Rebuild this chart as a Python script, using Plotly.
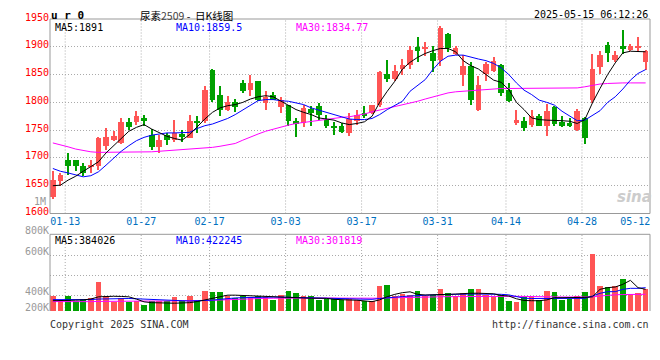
import plotly.graph_objects as go

# ---------------- data ----------------
dates = ["01-09","01-10","01-13","01-14","01-15","01-16","01-17","01-20","01-21","01-22","01-23","01-24","01-27",
         "02-05","02-06","02-07","02-10","02-11","02-12","02-13","02-14","02-17","02-18","02-19","02-20","02-21",
         "02-24","02-25","02-26","02-27","02-28",
         "03-03","03-04","03-05","03-06","03-07","03-10","03-11","03-12","03-13","03-14","03-17","03-18","03-19",
         "03-20","03-21","03-24","03-25","03-26","03-27","03-28","03-31",
         "04-01","04-02","04-03","04-07","04-08","04-09","04-10","04-11","04-14","04-15","04-16","04-17","04-18",
         "04-21","04-22","04-23","04-24","04-25","04-28","04-29","04-30",
         "05-06","05-07","05-08","05-09","05-12","05-13"]

opens = [1629,1659,1697,1697,1686,1685,1686,1721,1732,1727,1764,1764,1771,1741,1719,1741,1732,1743,1735,1766,
         1766,1858,1814,1786,1800,1834,1822,1838,1799,1813,1791,1796,1766,1763,1788,1793,1769,1758,1758,1745,
         1767,1781,1781,1796,1851,1842,1860,1867,1900,1897,1888,1876,1923,1887,1849,1866,1786,1851,1857,1867,
         1822,1763,1767,1760,1775,1757,1791,1764,1762,1750,1772,1805,1864,1903,1876,1901,1894,1898,1873]
highs = [1676,1672,1708,1697,1690,1696,1738,1753,1748,1771,1771,1784,1778,1752,1742,1745,1768,1751,1777,1775,
         1829,1860,1829,1812,1806,1841,1849,1838,1820,1819,1810,1796,1771,1795,1793,1798,1778,1765,1762,1781,
         1787,1793,1796,1857,1876,1867,1878,1901,1917,1908,1902,1937,1925,1901,1885,1872,1847,1873,1881,1869,
         1834,1787,1773,1787,1779,1797,1793,1775,1771,1788,1774,1887,1892,1908,1893,1930,1905,1917,1894]
lows = [1627,1650,1670,1677,1667,1673,1678,1715,1731,1725,1750,1760,1757,1715,1709,1723,1728,1728,1735,1745,
        1763,1800,1775,1785,1782,1817,1811,1803,1786,1804,1780,1758,1738,1756,1758,1769,1754,1741,1745,1739,
        1760,1772,1779,1792,1836,1838,1850,1860,1872,1884,1854,1866,1890,1886,1829,1796,1785,1838,1855,1811,
        1800,1760,1749,1755,1758,1740,1758,1756,1755,1748,1725,1799,1851,1872,1872,1887,1892,1892,1858]
closes = [1661,1669,1686,1686,1673,1688,1735,1737,1740,1764,1756,1775,1766,1719,1732,1732,1745,1738,1767,1763,
          1823,1805,1787,1800,1791,1820,1834,1804,1810,1805,1805,1766,1761,1790,1780,1778,1757,1753,1746,1770,
          1778,1775,1795,1854,1842,1857,1867,1894,1893,1899,1875,1934,1897,1898,1866,1805,1832,1869,1875,1816,
          1803,1769,1754,1775,1758,1785,1761,1758,1757,1784,1735,1860,1885,1889,1885,1896,1902,1901,1892]

ma5 = [1650,1651,1660,1667,1676,1684,1693,1709,1722,1736,1748,1755,1760,1752,1745,1739,1735,1732,1742,1757,
       1770,1782,1790,1794,1796,1800,1806,1810,1812,1810,1802,1795,1787,1782,1778,1772,1770,1768,1763,1760,
       1762,1765,1775,1800,1820,1838,1860,1872,1881,1888,1893,1897,1897,1891,1875,1866,1860,1850,1840,1836,
       1823,1800,1787,1772,1769,1768,1768,1767,1766,1762,1769,1799,1825,1850,1871,1889,1892,1891,1891]
ma10 = [1681,1676,1673,1670,1666,1668,1675,1687,1700,1712,1722,1731,1737,1741,1743,1745,1745,1745,1746,1753,
        1758,1761,1766,1771,1778,1786,1795,1803,1805,1805,1803,1802,1799,1796,1790,1786,1783,1779,1775,1770,
        1769,1769,1771,1778,1787,1794,1802,1820,1830,1841,1859,1874,1883,1885,1885,1881,1878,1875,1870,1862,
        1850,1835,1822,1814,1804,1800,1795,1784,1776,1767,1768,1776,1785,1800,1810,1824,1840,1852,1859]
ma30 = [1727,1724,1720,1716,1713,1711,1710,1710,1710,1710,1710,1710,1710,1711,1712,1713,1714,1715,1715,1716,
        1717,1719,1721,1723,1726,1732,1738,1743,1748,1752,1756,1759,1762,1764,1766,1768,1770,1772,1773,1774,
        1776,1779,1783,1786,1789,1792,1795,1799,1802,1806,1810,1814,1817,1819,1820,1822,1823,1824,1825,1825,
        1825,1825,1825,1825,1825,1825,1825,1825,1825,1826,1828,1831,1833,1834,1835,1835,1835,1835,1835]

volumes_k = [258,180,258,180,216,228,510,270,150,228,156,180,108,168,180,168,240,168,258,198,
             360,330,330,270,228,270,240,258,240,198,288,348,318,270,270,198,216,216,198,216,
             198,168,168,438,468,258,300,288,360,270,288,396,318,258,324,396,396,288,240,276,
             180,150,240,240,198,360,336,198,216,258,336,1026,438,420,450,576,300,324,396]
vol_ma5_k = [185,185,190,195,200,215,255,265,265,262,255,215,165,150,145,140,140,145,150,170,
             200,235,265,285,285,280,275,272,270,268,262,250,240,235,230,228,228,210,200,198,
             195,175,168,200,258,300,330,345,300,288,288,290,300,305,315,320,320,318,310,280,
             270,220,190,185,185,200,240,240,240,240,245,255,390,420,432,480,552,420,390]
vol_ma10_k = [205,205,203,200,200,205,215,220,225,225,225,220,212,205,200,195,190,185,180,182,
              185,195,210,225,235,240,245,248,250,250,250,248,245,242,240,238,236,230,225,220,
              215,212,210,225,240,250,260,270,280,285,290,295,300,305,305,305,305,305,303,300,
              290,260,230,225,225,225,225,225,228,228,228,270,318,348,348,390,408,408,420]
vol_ma30_k = [170,168,166,165,165,168,172,175,178,180,180,180,180,180,180,180,180,180,182,185,
              188,192,198,205,212,218,222,225,228,230,232,234,236,236,236,236,235,234,232,230,
              228,226,228,230,235,240,245,248,250,252,254,256,258,260,262,264,265,266,266,266,
              265,264,262,258,255,253,252,252,252,252,252,254,270,285,292,296,298,300,301]

tick_dates = ["01-13","01-27","02-17","03-03","03-17","03-31","04-14","04-28","05-12"]
price_ticks = [1600,1650,1700,1750,1800,1850,1900,1950]
vol_tick_text = ["800K","600K","","400K","200K"]
vol_tick_k = [1380,1003,643,283,0]

title_txt = "尿素<span style='color:#444444'>2509</span> -  日K线图"
code_txt = "<b>u r 0</b>"
stamp_txt = "2025-05-15 06:12:26"
price_ma_txt = ["MA5:1891", "MA10:1859.5", "MA30:1834.77"]
vol_ma_txt = ["MA5:384026", "MA10:422245", "MA30:301819"]

# ---------------- style ----------------
W, H = 660, 360
OFF = 8  # the page body margin shifts the figure by 8px; place things in window pixels
PLOT_L, PLOT_R, PLOT_T, PLOT_B = 50, 650, 19, 311   # window pixels
ML, MT = PLOT_L - OFF, PLOT_T - OFF
MR, MB = W - (PLOT_R - OFF), H - (PLOT_B - OFF)
RED, GREEN = "#FF5555", "#00A000"
MA_COLORS = ["#000000", "#0000FF", "#FF00FF"]
GRID = "#AAAAAA"
FRAME = "#999999"
MONO = "DejaVu Sans Mono"
BODY_W = 0.75
WICK_W = 0.14
MIN_BODY = 1.2

def pxx(x):
    return (x - PLOT_L) / (PLOT_R - PLOT_L)

def pyy(y):
    return (PLOT_B - y) / (PLOT_B - PLOT_T)

price_dom = [pyy(213.5), 1.0]
vol_dom = [0.0, pyy(234.3)]

n = len(dates)
xs = list(range(n))
up = [c >= o for o, c in zip(opens, closes)]
colors = [RED if u else GREEN for u in up]

fig = go.Figure()

fig.add_trace(go.Bar(x=xs, y=[h - l for h, l in zip(highs, lows)], base=lows, width=WICK_W,
                     marker=dict(color=colors, line=dict(width=0)), xaxis="x", yaxis="y"))
fig.add_trace(go.Bar(x=xs, y=[max(abs(c - o), MIN_BODY) for o, c in zip(opens, closes)],
                     base=[min(o, c) for o, c in zip(opens, closes)], width=BODY_W,
                     marker=dict(color=colors, line=dict(width=0)), xaxis="x", yaxis="y"))
for arr, col in zip([ma30, ma10, ma5], [MA_COLORS[2], MA_COLORS[1], MA_COLORS[0]]):
    fig.add_trace(go.Scatter(x=xs, y=arr, mode="lines", line=dict(color=col, width=1),
                             xaxis="x", yaxis="y"))

fig.add_trace(go.Bar(x=xs, y=[v * 1000 for v in volumes_k], width=BODY_W,
                     marker=dict(color=colors, line=dict(width=0)), xaxis="x", yaxis="y2"))
for arr, col in zip([vol_ma30_k, vol_ma10_k, vol_ma5_k], [MA_COLORS[2], MA_COLORS[1], MA_COLORS[0]]):
    fig.add_trace(go.Scatter(x=xs, y=[v * 1000 for v in arr], mode="lines", line=dict(color=col, width=1),
                             xaxis="x", yaxis="y2"))

tick_pos = [dates.index(d) - BODY_W / 2 for d in tick_dates]

shapes = []
for t in tick_pos[:-1]:
    for yr in ["y domain", "y2 domain"]:
        shapes.append(dict(type="line", xref="x", yref=yr, x0=t, x1=t, y0=0, y1=1,
                           line=dict(color=GRID, width=1, dash="1px,2px"), layer="below"))
shapes.append(dict(type="rect", xref="x domain", yref="y domain", x0=0, x1=1, y0=0, y1=1,
                   line=dict(color=FRAME, width=1)))
for (x0, x1, y0, y1) in [(0, 1, 1, 1), (0, 0, 0, 1), (1, 1, 0, 1)]:
    shapes.append(dict(type="line", xref="x domain", yref="y2 domain", x0=x0, x1=x1, y0=y0, y1=y1,
                       line=dict(color=FRAME, width=1)))

ann = []
def text(t, x, y, anchor="left", color="#000000", size=10, family=MONO, vanchor="middle"):
    ann.append(dict(text=t, x=pxx(x), y=pyy(y), xref="paper", yref="paper", xanchor=anchor,
                    yanchor=vanchor, showarrow=False, borderpad=0,
                    font=dict(family=family, size=size, color=color)))

TOP = OFF   # highest visible window row
text(code_txt, 50, TOP, size=11, vanchor="top")
text(title_txt, 139, TOP - 1.5, size=10.5, family="Noto Sans CJK SC", vanchor="top")
text(stamp_txt, 649, TOP, anchor="right", vanchor="top")
for t, x, c in zip(price_ma_txt, [54, 175, 295], MA_COLORS):
    text(t, x, 27.5, color=c)
for t, x, c in zip(vol_ma_txt, [54, 175, 295], MA_COLORS):
    text(t, x, 240, color=c)
text("1M", 47, 201, anchor="right", color="#999999")
text("Copyright 2025 SINA.COM", 49, 324, color="#333333")
text("http://finance.sina.com.cn", 650, 324, anchor="right", color="#333333")
text("<b><i>sina</i></b>", 634, 197, anchor="center", color="#CCCCCC", size=15, family="DejaVu Sans")

fig.update_layout(
    width=W, height=H, margin=dict(l=ML, r=MR, t=MT, b=MB, autoexpand=False),
    paper_bgcolor="white", plot_bgcolor="white",
    showlegend=False, hovermode=False, barmode="overlay", bargap=0,
    shapes=shapes, annotations=ann,
    xaxis=dict(domain=[0, 1], anchor="y", range=[-BODY_W / 2, n - BODY_W / 2 - 0.05],
               tickvals=tick_pos, ticktext=tick_dates, showgrid=False, zeroline=False,
               showline=False, ticks="", tickfont=dict(family=MONO, size=10, color="#0070C0")),
    yaxis=dict(domain=price_dom, anchor="x", range=[1600, 1950.01], tickvals=price_ticks,
               showgrid=True, gridcolor=GRID, griddash="1px,2px", gridwidth=1, zeroline=False,
               showline=False, ticks="", ticklabelshift=-2,
               tickfont=dict(family=MONO, size=10, color="#FF0000")),
    yaxis2=dict(domain=vol_dom, anchor="x", range=[0, 1380500], tickvals=[v * 1000 for v in vol_tick_k],
                ticktext=vol_tick_text, showgrid=True, gridcolor=GRID, griddash="1px,2px", gridwidth=1,
                zeroline=False, showline=False, ticks="", ticklabelshift=-4,
                tickfont=dict(family=MONO, size=10, color="#999999")),
)

fig.write_html("out.html")
